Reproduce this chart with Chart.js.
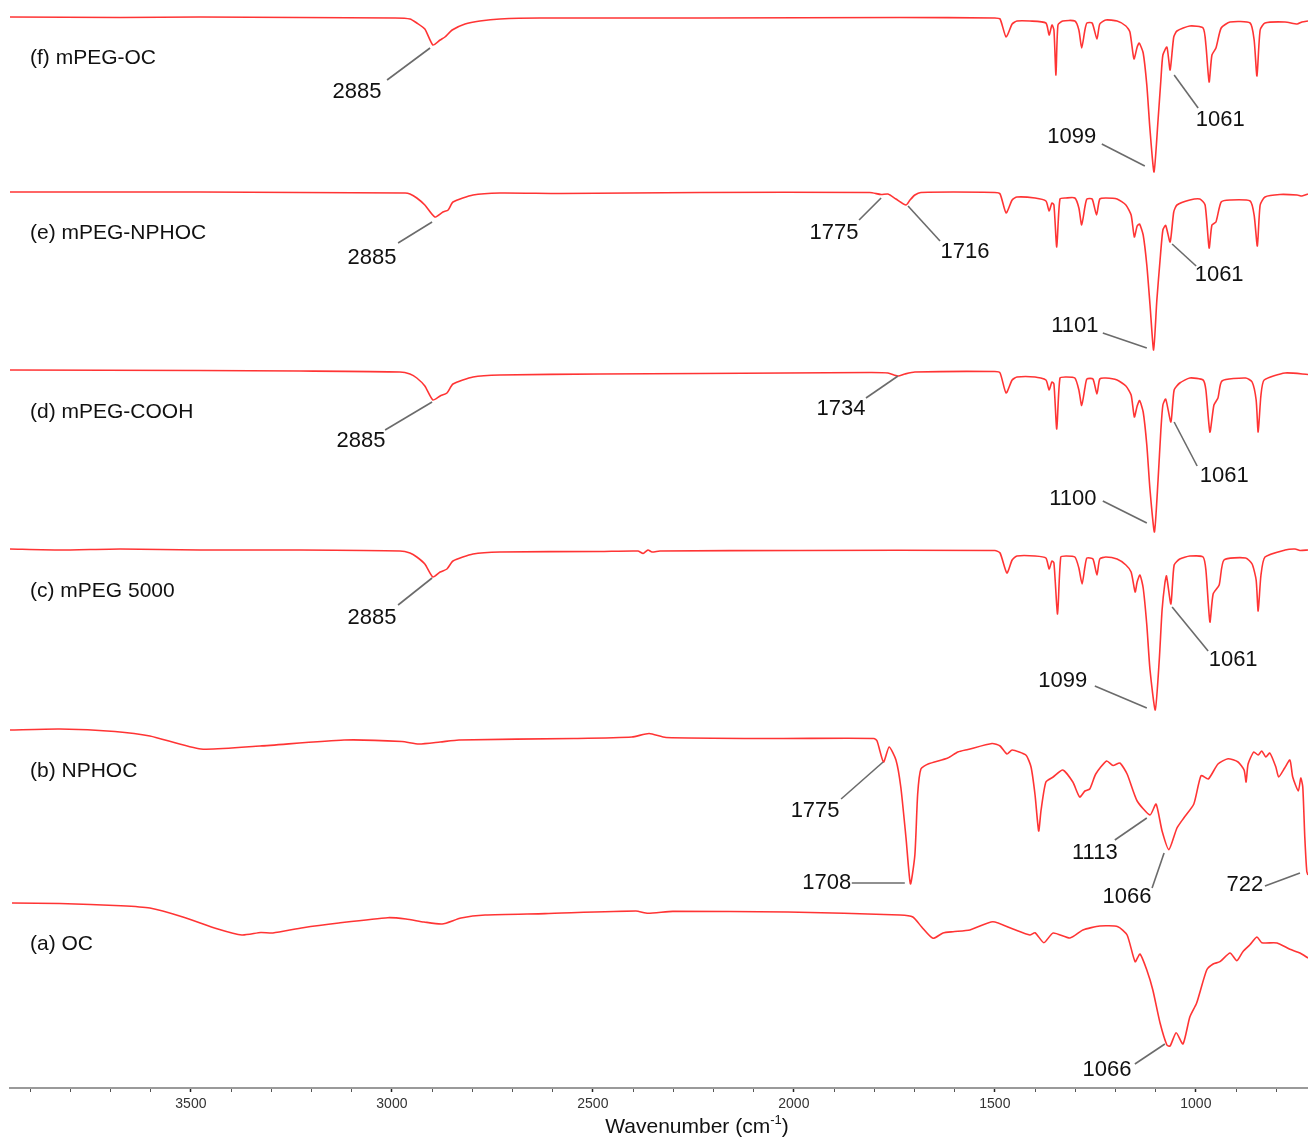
<!DOCTYPE html>
<html><head><meta charset="utf-8">
<script src="https://cdn.jsdelivr.net/npm/chart.js@4.4.1/dist/chart.umd.min.js"></script>
<style>html,body{margin:0;padding:0;background:#fff;} canvas{display:block;}</style>
</head><body>
<canvas id="c" width="1308" height="1140"></canvas>
<script>
// ---- data (wavenumber cm-1, transmittance a.u.) ----
const xMin = 721, xMax = 3950;
const majorTicks = [3500, 3000, 2500, 2000, 1500, 1000];
const seriesNames = ['(f) mPEG-OC', '(e) mPEG-NPHOC', '(d) mPEG-COOH', '(c) mPEG 5000', '(b) NPHOC', '(a) OC'];
const stackOffsets = [971, 796, 617, 438, 258, 85];

const specF = [[3950,100],[3676,99.5],[3477,100],[3229,99.5],[2992,99],[2955,98],[2938,94],[2918,88],[2898,72],[2880,77],[2868,80],[2850,87],[2818,93],[2781,96],[2731,98],[2632,99],[2234,99],[1736,99.5],[1500,99],[1487,98],[1472,80],[1457,93],[1445,96],[1413,96],[1373,94],[1365,82],[1358,92],[1353,87],[1348,42],[1343,92],[1331,96],[1301,96],[1291,87],[1284,69],[1276,87],[1271,94],[1258,94],[1246,78],[1239,93],[1224,97],[1196,96],[1174,91],[1164,85],[1154,58],[1146,70],[1141,74],[1131,64],[1122,32],[1114,-13],[1104,-55],[1094,-3],[1087,37],[1082,62],[1072,70],[1064,47],[1055,80],[1047,86],[1015,91],[982,89],[975,72],[967,35],[960,62],[950,69],[937,89],[915,95],[865,94],[855,77],[848,41],[840,87],[828,94],[778,95],[748,93],[736,95],[721,96]];

const specE = [[3950,100],[3477,100],[3229,99.5],[2967,99],[2955,98],[2938,94],[2918,87],[2893,75],[2873,80],[2860,82],[2848,90],[2798,97],[2731,99],[2582,98.5],[2234,99.5],[1811,99.5],[1783,97.5],[1766,98],[1746,93],[1721,87],[1711,92],[1699,97],[1684,99.5],[1500,99.5],[1487,98],[1472,79],[1457,92],[1445,95],[1400,94],[1373,91],[1365,81],[1358,89],[1353,87],[1346,45],[1338,93],[1323,94],[1301,94],[1291,84],[1284,67],[1276,85],[1271,93],[1258,93],[1247,77],[1239,93],[1224,94],[1196,93],[1174,87],[1161,77],[1153,55],[1146,66],[1140,68],[1131,57],[1122,27],[1114,-13],[1105,-58],[1097,-8],[1089,32],[1082,62],[1075,66.5],[1064,50],[1055,80],[1047,87],[1015,92],[990,93],[977,87],[967,44],[960,67],[950,70],[937,90],[915,92],[865,91],[855,77],[847,46],[840,87],[828,95],[791,97.5],[748,97],[736,96],[721,98]];

const specD = [[3950,101],[3477,100.5],[3229,100],[2980,99],[2955,97],[2938,93],[2918,85],[2898,71],[2880,75],[2863,78],[2848,87],[2798,94],[2731,96],[2482,97],[2234,97.5],[1811,98.5],[1766,98],[1741,95],[1724,97],[1699,99],[1500,99.5],[1487,98],[1472,78],[1457,91],[1445,94],[1400,94],[1373,91],[1365,81],[1358,89],[1353,87],[1346,42],[1338,93],[1323,94],[1301,93],[1291,81],[1284,65.5],[1276,83],[1271,92],[1256,92],[1246,77],[1239,92],[1224,93],[1196,91],[1174,85],[1161,76],[1153,54],[1146,65],[1140,70.5],[1131,59],[1122,26],[1114,-19],[1103,-61],[1094,-9],[1087,41],[1082,66],[1075,72],[1062,49],[1054,81],[1040,88],[1015,93],[982,91],[975,81],[965,39],[955,66],[945,73],[935,90],[876,93],[860,89],[850,71],[845,39],[838,76],[830,91],[778,98],[721,96.5]];

const specC = [[3950,101],[3826,100],[3676,101],[3477,100],[3229,100],[2980,99],[2955,97],[2938,93],[2918,86],[2898,73],[2880,78],[2863,81],[2848,89],[2798,96],[2731,98],[2482,98.5],[2388,99],[2375,96.5],[2363,100],[2353,98],[2333,99],[1985,99.5],[1500,99.5],[1487,97],[1470,77],[1457,90],[1445,94],[1400,94],[1373,92],[1365,81],[1358,89],[1353,87],[1344,36],[1336,93],[1323,94],[1301,93],[1291,82],[1283,66],[1276,83],[1271,92],[1256,91],[1246,75],[1239,91],[1224,93],[1196,91],[1174,85],[1161,78],[1151,58],[1146,68],[1139,75],[1131,62],[1122,25],[1114,-20],[1101,-60],[1091,-10],[1084,40],[1077,67],[1073,74],[1062,46],[1054,85],[1040,91],[1015,94],[982,93],[975,80],[965,28],[957,56],[942,65],[930,90],[876,92],[860,86],[850,70],[845,39],[838,75],[828,93],[778,100],[753,101],[741,99.5],[721,100]];

const specB = [[3950,100],[3826,101],[3689,98.5],[3602,94],[3475,81],[3328,84],[3119,90],[2975,88.5],[2933,86],[2880,88],[2833,90],[2547,91.5],[2403,93],[2360,96.5],[2318,92.5],[2035,91.5],[1801,91.5],[1793,89],[1777,68],[1763,83],[1746,70],[1734,43],[1721,-8],[1710,-54],[1699,-25],[1692,36],[1684,61],[1666,66],[1617,72],[1592,78],[1567,80.5],[1507,86.5],[1487,84],[1470,76],[1457,80],[1423,75],[1410,63],[1400,35],[1391,-1],[1385,20],[1373,48],[1355,53],[1331,60],[1306,48],[1289,33],[1276,39],[1264,41],[1249,56],[1222,69],[1206,64.5],[1189,67],[1171,56],[1146,29],[1114,15],[1099,26],[1084,-1],[1067,-19.6],[1047,2],[1030,12],[1005,26],[987,54.4],[969,51],[945,66],[920,71.3],[895,68],[880,60],[875,48],[870,66],[856,78],[845,75],[836,79],[826,73],[816,77],[801,63],[794,53],[779,62],[766,70],[759,53],[745,39],[739,52],[734,43],[729,-7],[724,-41.5],[721,-45]];

const specA = [[3945,100],[3826,99.5],[3674,97.3],[3602,95],[3522,86.3],[3433,74],[3373,68],[3326,70.5],[3296,70],[3221,75.3],[3132,80],[3010,85.3],[2965,84],[2920,81],[2875,79],[2828,85],[2768,88],[2619,89.4],[2393,92],[2363,89.7],[2301,91.6],[2015,91],[1736,88],[1704,86],[1682,76],[1654,64.7],[1629,70],[1604,71.3],[1562,73],[1505,81.3],[1455,74],[1413,68],[1400,70.3],[1378,60.3],[1355,70],[1313,65],[1281,73],[1239,77],[1194,76.3],[1171,68],[1151,41.3],[1139,49],[1122,33],[1107,13],[1089,-20],[1072,-42],[1064,-43],[1049,-29.7],[1032,-41],[1015,-14],[998,0],[973,33],[957,39],[940,41.3],[915,50],[898,42.3],[883,51.3],[866,58],[848,66],[836,60.3],[798,60],[766,53.7],[741,50],[721,45]];

const spectra = [specF, specE, specD, specC, specB, specA];

// peak labels: [series index, text, tip wavenumber, tip transmittance]
const peakLabels = [
  [0,'2885',2905,69],[0,'1099',1127,-49],[0,'1061',1054,42],
  [1,'2885',2900,70],[1,'1775',1783,94],[1,'1716',1716,86],[1,'1101',1122,-56],[1,'1061',1059,48],
  [2,'2885',2900,69],[2,'1734',1741,95],[2,'1100',1122,-52],[2,'1061',1054,49],
  [3,'2885',2900,72],[3,'1099',1122,-58],[3,'1061',1059,43],
  [4,'1775',1778,68],[4,'1708',1724,-53],[4,'1113',1122,12],[4,'1066',1079,-23],[4,'722',741,-43],
  [5,'1066',1077,-41]
];
// leader end offset and text centre offset (px) for each peak label
const peakLabelLayout = [
  [-43,32,-73,44],[-43,-22,-73,-29],[24,33,46,45],
  [-34,21,-60,36],[-22,22,-47,35],[32,35,57,46],[-44,-15,-72,-22],[24,22,47,31],
  [-47,28,-71,39],[-32,22,-57,33],[-44,-22,-74,-24],[23,44,50,54],
  [-34,27,-60,40],[-52,-22,-84,-27],[36,44,61,53],
  [-42,37,-68,49],[-53,0,-78,0],[-32,22,-52,35],[-12,35,-37,44],[-35,13,-55,12],
  [-30,20,-58,26]
];

const FONT = '"Liberation Sans", Arial, sans-serif';

const annotPlugin = {
  id: 'annot',
  afterDatasetsDraw(chart) {
    const ctx = chart.ctx, xs = chart.scales.x, ys = chart.scales.y;
    ctx.save();
    ctx.fillStyle = '#111';
    ctx.font = '21px ' + FONT;
    ctx.textAlign = 'left';
    ctx.textBaseline = 'middle';
    seriesNames.forEach((n, i) => {
      const yb = ys.getPixelForValue(stackOffsets[i] + 100);
      ctx.fillText(n, 30, yb + 41);
    });
    ctx.font = '22px ' + FONT;
    ctx.textAlign = 'center';
    peakLabels.forEach((p, k) => {
      const [si, txt, wn, t] = p;
      const L = peakLabelLayout[k];
      const px = xs.getPixelForValue(wn), py = ys.getPixelForValue(stackOffsets[si] + t);
      ctx.strokeStyle = '#6b6b6b';
      ctx.lineWidth = 1.6;
      ctx.beginPath();
      ctx.moveTo(px, py);
      ctx.lineTo(px + L[0], py + L[1]);
      ctx.stroke();
      ctx.fillStyle = '#111';
      ctx.fillText(txt, px + L[2], py + L[3]);
    });
    const a = 'Wavenumber (cm', sup = '-1', b = ')';
    ctx.font = '21px ' + FONT;
    const wa = ctx.measureText(a).width, wb = ctx.measureText(b).width;
    ctx.font = '13px ' + FONT;
    const ws = ctx.measureText(sup).width;
    const total = wa + ws + wb;
    let x0 = 697 - total / 2;
    const yT = 1127;
    ctx.textAlign = 'left';
    ctx.fillStyle = '#111';
    ctx.font = '21px ' + FONT;
    ctx.fillText(a, x0, yT);
    ctx.font = '13px ' + FONT;
    ctx.fillText(sup, x0 + wa, yT - 7);
    ctx.font = '21px ' + FONT;
    ctx.fillText(b, x0 + wa + ws, yT);
    ctx.restore();
  }
};

const datasets = spectra.map((s, i) => ({
  label: seriesNames[i],
  data: s.map(([w, t]) => ({ x: w, y: t + stackOffsets[i] })),
  borderColor: 'rgba(255,35,35,0.92)',
  borderWidth: 1.6,
  pointRadius: 0,
  tension: 0.2,
  fill: false
}));

new Chart(document.getElementById('c').getContext('2d'), {
  type: 'line',
  data: { datasets },
  options: {
    responsive: false,
    animation: false,
    layout: { padding: { left: 10, right: 0, top: 0, bottom: 0 } },
    plugins: { legend: { display: false }, tooltip: { enabled: false } },
    scales: {
      x: {
        type: 'linear', reverse: true, min: xMin, max: xMax,
        afterBuildTicks: (sc) => {
          const t = [];
          for (let v = 800; v <= 3900; v += 100) t.push({ value: v });
          sc.ticks = t;
        },
        afterFit: (sc) => { sc.height = 52; },
        ticks: {
          autoSkip: false, maxRotation: 0, padding: 4, color: '#333',
          font: { family: FONT, size: 14 },
          callback: (v) => majorTicks.includes(v) ? String(v) : ''
        },
        grid: {
          drawOnChartArea: false, drawTicks: true, tickLength: 4,
          color: '#333', lineWidth: 1,
          tickColor: (c) => (c.tick && c.tick.value % 500 === 0) ? '#222' : '#555',
          tickWidth: (c) => (c.tick && c.tick.value % 500 === 0) ? 1.5 : 1
        },
        border: { display: true, color: '#9a9a9a', width: 2 }
      },
      y: { display: false, min: 0, max: 1088 }
    }
  },
  plugins: [annotPlugin]
});
</script>
</body></html>
